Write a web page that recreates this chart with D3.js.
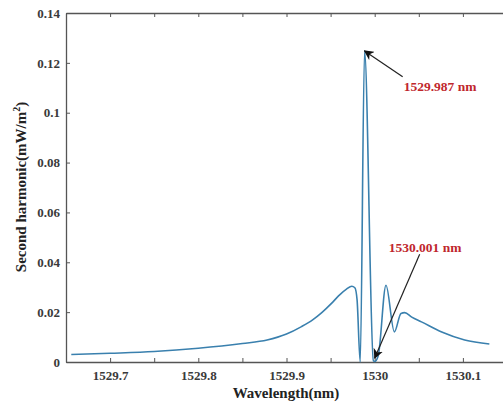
<!DOCTYPE html>
<html>
<head>
    <script src="https://cdnjs.cloudflare.com/ajax/libs/d3/7.8.5/d3.min.js"></script>
    <style>
        body { margin: 0; background: #fff; }
        svg { display: block; }
        text { font-family: "Liberation Serif", "DejaVu Serif", serif; font-weight: bold; }
    </style>
</head>
<body>
    <svg id="chart" width="503" height="403"></svg>
    <script>
        // Datos
        const wavelength = [1529.656, 1529.70, 1529.75, 1529.80, 1529.85, 1529.878, 1529.90, 1529.917,
            1529.930, 1529.940, 1529.951, 1529.959, 1529.968, 1529.974, 1529.9775, 1529.980, 1529.9836,
            1529.9885, 1529.9985, 1530.000, 1530.004, 1530.0128, 1530.0223, 1530.0298, 1530.034,
            1530.042, 1530.053, 1530.076, 1530.102, 1530.130];
        const harmonic = [0.0030, 0.0035, 0.0042, 0.0055, 0.0074, 0.0088, 0.0112, 0.0142,
            0.0170, 0.0198, 0.0235, 0.0265, 0.0292, 0.0304, 0.0298, 0.0250, 0.0,
            0.1248, 0.0005, 0.0002, 0.0025, 0.0308, 0.0121, 0.0195, 0.0198,
            0.0180, 0.0161, 0.0120, 0.0088, 0.0072];

        const xTicks = [1529.7, 1529.75, 1529.8, 1529.85, 1529.9, 1529.95, 1530, 1530.05, 1530.1];
        const xLabels = ["1529.7", "", "1529.8", "", "1529.9", "", "1530", "", "1530.1"];
        const yTicks = [0, 0.02, 0.04, 0.06, 0.08, 0.1, 0.12, 0.14];
        const yLabels = ["0", "0.02", "0.04", "0.06", "0.08", "0.1", "0.12", "0.14"];

        const noteText = ["1529.987 nm", "1530.001 nm"];
        const noteTip = [[1529.9885, 0.1248], [1530.0, 0.0016]];
        const noteTail = [[1530.0317, 0.1144], [1530.051, 0.0432]];
        const noteLabel = [[1530.0328, 0.1108], [1530.0159, 0.0460]];

        const svg = d3.select("#chart");
        const x = d3.scaleLinear().domain([1529.65, 1530.15]).range([66, 507]);
        const y = d3.scaleLinear().domain([0, 0.14]).range([362, 13]);

        const axisColor = "#555";

        // Ejes (marcas hacia dentro, estilo MATLAB)
        const axisBottomG = svg.append("g").attr("transform", "translate(0,362)")
            .call(d3.axisBottom(x).tickValues(xTicks).tickSizeInner(-4).tickSizeOuter(0)
                .tickPadding(9).tickFormat((d, i) => xLabels[i]));
        const axisTopG = svg.append("g").attr("transform", "translate(0,13)")
            .call(d3.axisTop(x).tickValues(xTicks).tickSizeInner(-4).tickSizeOuter(0).tickFormat(""));
        const axisLeftG = svg.append("g").attr("transform", "translate(66,0)")
            .call(d3.axisLeft(y).tickValues(yTicks).tickSizeInner(-4).tickSizeOuter(0)
                .tickPadding(6).tickFormat((d, i) => yLabels[i]));

        [axisBottomG, axisTopG, axisLeftG].forEach(g => {
            g.select(".domain").attr("stroke", axisColor).attr("stroke-width", 1.3);
            g.selectAll(".tick line").attr("stroke", axisColor);
            g.selectAll(".tick text").attr("fill", "#3a3a3a").style("font-size", "13px")
                .style("font-family", "'Liberation Serif', serif").style("font-weight", "bold");
        });

        // Curva
        const pts = wavelength.map((w, i) => [w, harmonic[i]]);
        svg.append("path")
            .datum(pts)
            .attr("fill", "none")
            .attr("stroke", "#3a80ae")
            .attr("stroke-width", 1.6)
            .attr("stroke-linejoin", "round")
            .attr("d", d3.line().x(d => x(d[0])).y(d => y(d[1])).curve(d3.curveMonotoneX));

        // Flechas y anotaciones
        svg.append("defs").append("marker")
            .attr("id", "arrow")
            .attr("viewBox", "0 0 10 10")
            .attr("refX", 9).attr("refY", 5)
            .attr("markerWidth", 10).attr("markerHeight", 10)
            .attr("markerUnits", "userSpaceOnUse")
            .attr("orient", "auto")
            .append("path").attr("d", "M0,0 L10,5 L0,10 L3,5 Z").attr("fill", "#111");

        noteText.forEach((t, i) => {
            svg.append("line")
                .attr("x1", x(noteTail[i][0])).attr("y1", y(noteTail[i][1]))
                .attr("x2", x(noteTip[i][0])).attr("y2", y(noteTip[i][1]))
                .attr("stroke", "#222").attr("stroke-width", 1.2)
                .attr("marker-end", "url(#arrow)");
            svg.append("text")
                .attr("x", x(noteLabel[i][0])).attr("y", y(noteLabel[i][1]))
                .attr("dy", "0.35em")
                .attr("fill", "#c0272d")
                .style("font-size", "13.5px")
                .text(t);
        });

        // Títulos de ejes
        svg.append("text")
            .attr("transform", "translate(26,187) rotate(-90)")
            .attr("text-anchor", "middle")
            .attr("fill", "#222")
            .style("font-size", "15px")
            .html("Second harmonic(mW/m<tspan dy='-6' font-size='10px'>2</tspan><tspan dy='6'>)</tspan>");

        svg.append("text")
            .attr("x", 286).attr("y", 398)
            .attr("text-anchor", "middle")
            .attr("fill", "#222")
            .style("font-size", "15px")
            .text("Wavelength(nm)");
    </script>
</body>
</html>
